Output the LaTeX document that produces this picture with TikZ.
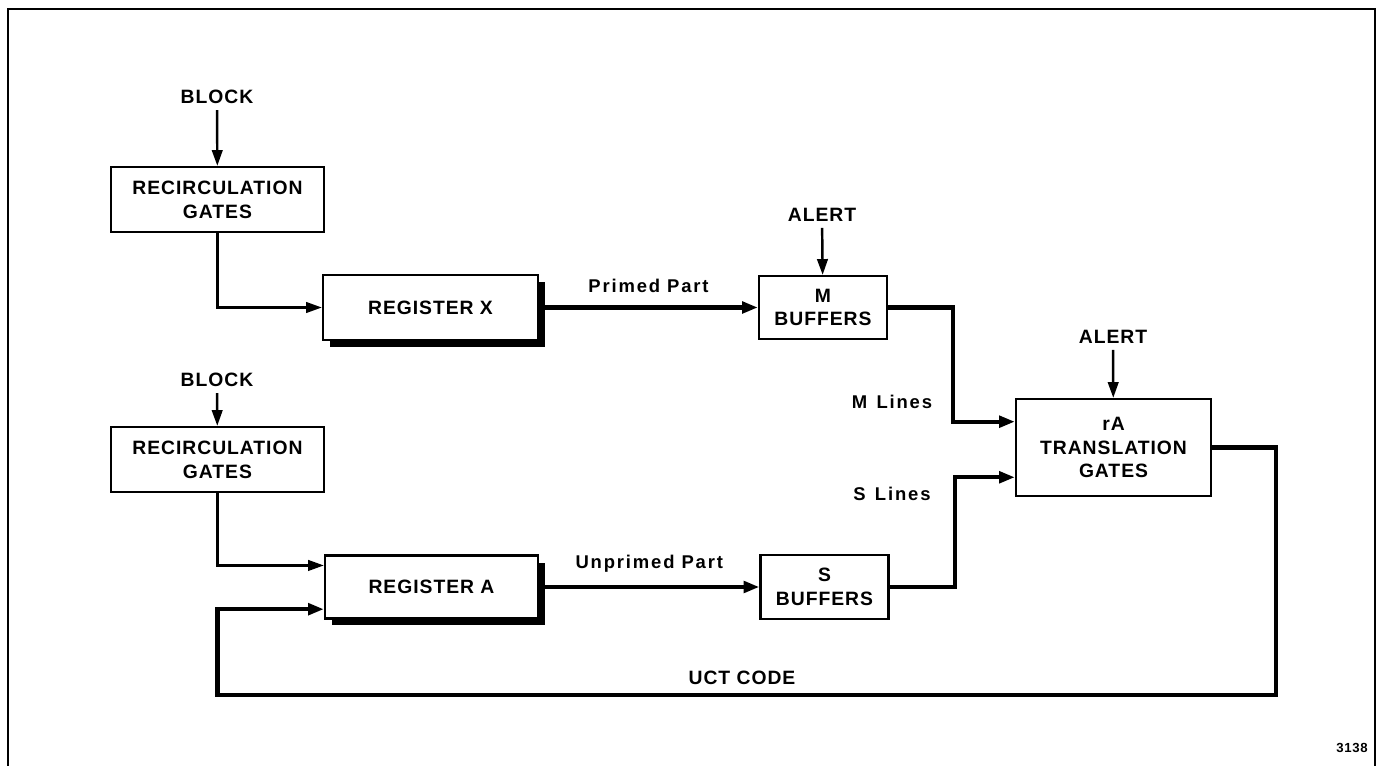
\documentclass[tikz,border=0pt]{standalone}
\usepackage{fontspec}
\newfontfamily\letterfont[LetterSpace=5]{Liberation Sans}
\newfontfamily\smalllfont[LetterSpace=10]{Liberation Sans}
\newcommand{\boxfont}{\letterfont\bfseries\fontsize{11}{13.5}\selectfont}
\newcommand{\linefont}{\smalllfont\bfseries\fontsize{10.5}{13.5}\selectfont}
\usetikzlibrary{arrows.meta, calc, shadows}

\tikzset{
  gatebox/.style={draw, line width=1.3pt, fill=white, align=center, inner sep=0pt, font=\boxfont},
  regbox/.style={gatebox, drop shadow={shadow xshift=0.14cm, shadow yshift=-0.14cm, fill=black, opacity=1}},
  sigtext/.style={font=\boxfont},
  linetext/.style={font=\linefont},
  sig/.style={line width=1.4pt, -{Triangle[length=9pt,width=6pt]}},
  bus/.style={line width=2.4pt, -{Triangle[length=9pt,width=6.5pt]}}
}

\begin{document}
\begin{tikzpicture}[x=0.02cm, y=-0.02cm]
  \useasboundingbox (0,0) rectangle (1377,766);

  % Frame
  \draw[line width=1.2pt] (8,766) -- (8,9) -- (1375,9) -- (1375,766);

  % Blocks
  \node[gatebox, minimum width=4.26cm, minimum height=1.3cm] (rg1) at (217.5,199.5) {RECIRCULATION\\GATES};
  \node[gatebox, minimum width=4.26cm, minimum height=1.3cm] (rg2) at (217.5,459.5) {RECIRCULATION\\GATES};
  \node[regbox, minimum width=4.3cm, minimum height=1.3cm] (regX) at (430.5,307.5) {REGISTER X};
  \node[regbox, minimum width=4.26cm, minimum height=1.26cm] (regA) at (431.5,587) {REGISTER A};
  \node[gatebox, minimum width=2.56cm, minimum height=1.26cm] (mbuf) at (823,307.5) {M\\BUFFERS};
  \node[gatebox, minimum width=2.56cm, minimum height=1.28cm] (sbuf) at (824.5,587) {S\\BUFFERS};
  \node[gatebox, minimum width=3.9cm, minimum height=1.94cm] (rA) at (1113.5,447.5) {rA\\TRANSLATION\\GATES};

  % Control inputs
  \node[sigtext] (blk1) at (217,97) {BLOCK};
  \node[sigtext] (blk2) at (217,380) {BLOCK};
  \node[sigtext] (alert1) at (822,215) {ALERT};
  \node[sigtext] (alert2) at (1113,337) {ALERT};
  \draw[sig] (blk1) -- (rg1);
  \draw[sig] (blk2) -- (rg2);
  \draw[sig] (alert1) -- (mbuf);
  \draw[sig] (alert2) -- (rA);

  % Entry points
  \coordinate (regAup) at ($(regA.north west)!0.17!(regA.south west)$);
  \coordinate (regAlo) at ($(regA.north west)!0.84!(regA.south west)$);
  \coordinate (rAm) at ($(rA.north west)!0.24!(rA.south west)$);
  \coordinate (rAs) at ($(rA.north west)!0.80!(rA.south west)$);
  \coordinate (loop) at (1276,695);

  % Recirculation
  \draw[sig] (rg1.south) |- (regX.west);
  \draw[sig] (rg2.south) |- (regAup);

  % Data paths
  \draw[bus] (regX.east) -- (mbuf.west) node[midway, above=4pt, linetext] {Primed Part};
  \draw[bus] (regA.east) -- (sbuf.west) node[midway, above=4pt, linetext] {Unprimed Part};
  \draw[bus] (mbuf.east) -- ++(65,0) |- (rAm);
  \draw[bus] (sbuf.east) -- ++(65,0) |- (rAs);
  \draw[bus] (rA.east) -| (loop) -| (rg2.south |- regAlo) -- (regAlo);

  % Labels
  \node[linetext] (mlines) at (892,402) {M\enspace Lines};
  \node[linetext] (slines) at (892,494) {S\enspace Lines};
  \node[sigtext] (uct) at (742,678) {UCT CODE};
  \node[font=\letterfont\bfseries\fontsize{7.5}{8}\selectfont] (fig) at (1352,748) {3138};
\end{tikzpicture}
\end{document}
